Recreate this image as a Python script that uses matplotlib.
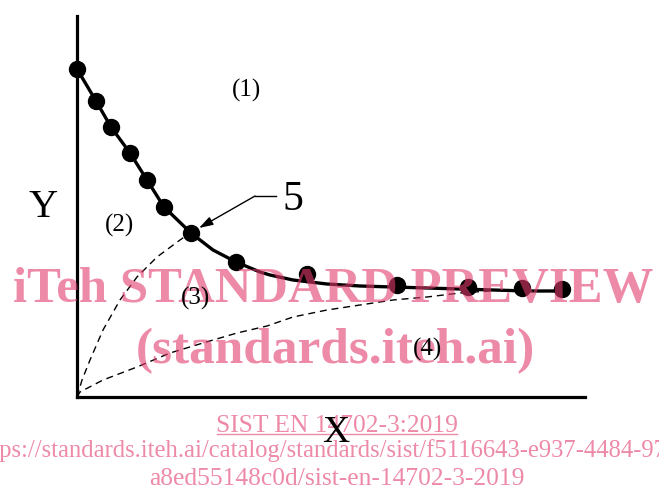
import matplotlib
matplotlib.use("Agg")
import matplotlib.pyplot as plt
from matplotlib.patches import FancyArrowPatch
from matplotlib.lines import Line2D

# ---- data (units: offset from the origin of the drawn axes) ----
marker_x = [0, 19, 34, 53, 70, 87, 114, 159, 230, 320, 391, 445, 485]
marker_y = [328, 296, 270, 244, 217, 190, 164, 135, 123, 112, 110, 109, 108]

curve_x = [0, 19, 34, 53, 70, 87, 114, 136, 159, 183, 193, 216, 250, 283, 316, 350, 383, 416, 450, 485]
curve_y = [328, 296, 270, 244, 217, 190, 164, 147, 135, 125, 122, 117, 113, 111, 110, 109, 108, 107, 106, 106]

dash1_x = [0, 5, 13, 26, 43, 60, 80, 103, 113]
dash1_y = [0, 17, 37, 67, 97, 120, 140, 157, 164]

dash2_x = [0, 3, 26, 60, 93, 126, 160, 190, 216, 250, 283, 316, 350, 383, 413]
dash2_y = [0, 5, 17, 30, 44, 54, 64, 71, 80, 87, 92, 97, 100, 104, 106]

region_labels = ["(1)", "(2)", "(3)", "(4)"]
axis_labels = ["X", "Y"]
callout = "5"
wm_line1 = "iTeh STANDARD PREVIEW"
wm_line2 = "(standards.iteh.ai)"
ref_line1 = "SIST EN 14702-3:2019"
ref_line2 = "https://standards.iteh.ai/catalog/standards/sist/f5116643-e937-4484-97"
ref_line3 = "a8ed55148c0d/sist-en-14702-3-2019"

W, H = 659, 498
fig = plt.figure(figsize=(W / 100, H / 100), dpi=100)
fig.patch.set_facecolor("white")

def fx(px):
    return px / W

def fy(py):
    return 1 - py / H

# axes whose left/bottom spines are the drawn axis lines
x0, y0, x1, y1 = 77, 397, 585, 16
ax = fig.add_axes([fx(x0), fy(y0), (x1 - x0) / W, (y0 - y1) / H])
ax.set_xlim(0, x1 - x0)
ax.set_ylim(0, y0 - y1)
for s in ["top", "right"]:
    ax.spines[s].set_visible(False)
for s in ["left", "bottom"]:
    ax.spines[s].set_linewidth(2.3)
    ax.spines[s].set_color("black")
ax.set_xticks([])
ax.set_yticks([])
ax.patch.set_alpha(0)

ax.plot(dash1_x, dash1_y, color="black", lw=1.0, dashes=(5, 3.5), clip_on=False)
ax.plot(dash2_x, dash2_y, color="black", lw=1.0, dashes=(5, 3.5), clip_on=False)
ax.plot(curve_x, curve_y, color="black", lw=2.4, solid_joinstyle="round", clip_on=False)
ax.plot(marker_x, marker_y, "o", color="black", ms=11.5, clip_on=False)

serif = "Liberation Serif"
# watermark
pink = "#E23C6E"
fig.text(fx(333), fy(302), wm_line1, ha="center", va="baseline", fontsize=36.5,
         fontweight="bold", family=serif, color=pink, alpha=0.6, zorder=4)
fig.text(fx(335), fy(363), wm_line2, ha="center", va="baseline", fontsize=37,
         fontweight="bold", family=serif, color=pink, alpha=0.6, zorder=4)
fig.text(fx(337), fy(432), ref_line1, ha="center", va="baseline", fontsize=18.4,
         family=serif, color=pink, alpha=0.6, zorder=4)
fig.add_artist(Line2D([fx(217), fx(457)], [fy(434), fy(434)], color=pink, alpha=0.6,
                      lw=1.0, zorder=4))
fig.text(fx(-26), fy(457), ref_line2, ha="left", va="baseline", fontsize=17.7,
         family=serif, color=pink, alpha=0.6, zorder=4)
fig.text(fx(337), fy(485), ref_line3, ha="center", va="baseline", fontsize=18.4,
         family=serif, color=pink, alpha=0.6, zorder=4)

# region labels
label_pos = [(247, 90), (119, 225), (196, 298), (428, 349)]
for t, (px, py) in zip(region_labels, label_pos):
    fig.text(fx(px), fy(py), t, ha="center", va="center", fontsize=18,
             family=serif, color="black", zorder=5)

fig.text(fx(336), fy(442), axis_labels[0], ha="center", va="baseline", fontsize=27,
         family=serif, color="black", zorder=5)
fig.text(fx(43), fy(217), axis_labels[1], ha="center", va="baseline", fontsize=29,
         family=serif, color="black", zorder=5)

# callout 5 with arrow
fig.text(fx(282), fy(210), callout, ha="left", va="baseline", fontsize=30,
         family=serif, color="black", zorder=5)
fig.add_artist(Line2D([fx(255), fx(276)], [fy(196), fy(196)], color="black", lw=1.0, zorder=5))
arr = FancyArrowPatch((fx(255), fy(196)), (fx(199), fy(228)), transform=fig.transFigure,
                      arrowstyle="-|>,head_length=0.7,head_width=0.22", mutation_scale=12,
                      color="black", lw=1.0, shrinkA=0, shrinkB=0, zorder=5)
fig.add_artist(arr)

fig.savefig("out.png", dpi=100)
